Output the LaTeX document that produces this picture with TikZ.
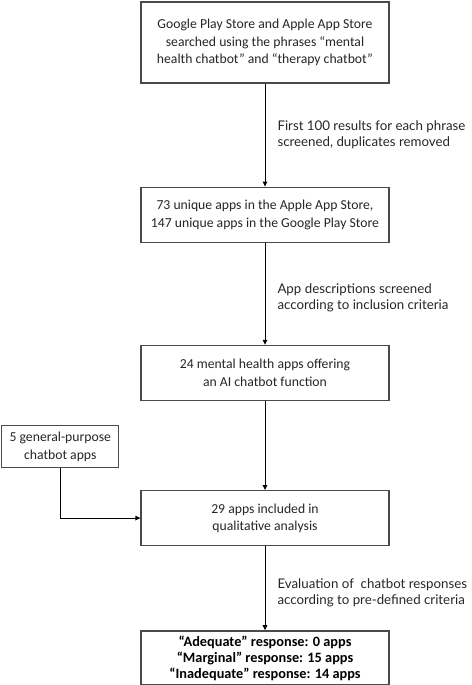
\documentclass[tikz,border=0pt]{standalone}
\usepackage{fontspec}
\setmainfont{Carlito}
\newfontfamily\lblfont{Lato}
\usetikzlibrary{positioning,arrows.meta}
\definecolor{boxline}{HTML}{4A4A4A}
\definecolor{ink}{HTML}{262626}

\begin{document}
\begin{tikzpicture}[
  every node/.style={font=\fontsize{13.7}{17.5}\selectfont, text=ink},
  box/.style={draw=boxline, line width=1.2pt, fill=white, align=center,
              minimum width=248pt, minimum height=55pt, inner sep=3pt},
  res/.style={box, line width=2pt, font=\fontsize{14.3}{16}\selectfont\bfseries, text=black},
  arr/.style={-{Triangle[length=5pt,width=4.5pt]}, line width=1pt, black},
  lbl/.style={font=\lblfont\fontsize{13.3}{16}\selectfont, align=left, inner sep=0pt}
]
  \useasboundingbox (0,0) rectangle (471pt,-685pt);

  \node[box, minimum height=81pt] (search) at (265pt,-42.5pt)
    {Google Play Store and Apple App Store\\ searched using the phrases “mental\\ health chatbot” and “therapy chatbot”};
  \node[box, below=103pt of search] (unique) {73 unique apps in the Apple App Store,\\ 147 unique apps in the Google Play Store};
  \node[box, below=102pt of unique] (mh) {24 mental health apps offering\\ an AI chatbot function};
  \node[box, below=89pt of mh] (incl) {29 apps included in\\ qualitative analysis};
  \node[box, minimum width=117pt, minimum height=42pt, left=21pt of incl, yshift=71.5pt] (gen)
    {5 general-purpose\\ chatbot apps};
  \node[res, minimum height=54pt, below=84pt of incl] (resp)
    {“Adequate” response: 0 apps\\ “Marginal” response: 15 apps\\ “Inadequate” response: 14 apps};

  \draw[arr] (search) -- node[lbl, right=12pt] {First 100 results for each phrase\\ screened, duplicates removed} (unique);
  \draw[arr] (unique) -- node[lbl, right=12pt, yshift=-4pt] {App descriptions screened\\ according to inclusion criteria} (mh);
  \draw[arr] (mh) -- (incl);
  \draw[arr] (gen.south) |- (incl.west);
  \draw[arr] (incl) -- node[lbl, right=12pt, yshift=-5pt] {Evaluation of\ \ chatbot responses\\ according to pre-defined criteria} (resp);
\end{tikzpicture}
\end{document}
